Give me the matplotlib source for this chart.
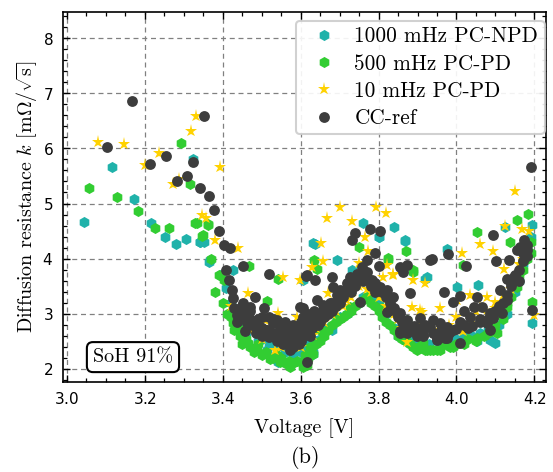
import matplotlib
matplotlib.use("Agg")
import matplotlib.pyplot as plt
from matplotlib.ticker import MultipleLocator

plt.rcParams['font.family'] = ['cmr10', 'DejaVu Serif']
plt.rcParams['mathtext.fontset'] = 'cm'
plt.rcParams['axes.formatter.use_mathtext'] = True

# ---------------- data ----------------
labels = ["1000 mHz PC-NPD", "500 mHz PC-PD", "10 mHz PC-PD", "CC-ref"]

teal_v = [3.044, 3.117, 3.172, 3.215, 3.252, 3.281, 3.306, 3.342, 3.352, 3.324, 3.365, 3.342, 3.367, 3.393,
          3.427, 3.408, 3.543, 3.513, 3.633, 3.607, 3.633, 3.760, 3.840, 3.802, 3.869, 3.637, 3.693, 3.731,
          3.920, 3.633, 3.881, 3.975, 4.055, 4.085, 4.100, 3.924, 4.125, 4.194, 4.194, 4.032, 3.868, 4.001,
          4.053, 3.800,
          3.42, 3.44, 3.46, 3.49, 3.52, 3.56, 3.58, 3.60, 3.62, 3.65, 3.67, 3.70, 3.73, 3.76, 3.79, 3.82,
          3.85, 3.87, 3.90, 3.93, 3.96, 3.99, 4.02, 4.06, 4.11, 4.13, 4.15, 4.17, 4.18,
          3.43, 3.45, 3.50, 3.54, 3.57, 3.61, 3.64, 3.68, 3.72, 3.75, 3.80, 3.84, 3.88, 3.95, 4.00,
          4.04, 4.08, 4.12, 4.16, 4.19]
teal_k = [4.66, 5.67, 5.08, 4.65, 4.39, 4.27, 4.36, 4.30, 4.30, 5.81, 3.94, 4.31, 3.98, 3.70,
          3.79, 3.46, 2.13, 2.34, 4.28, 3.61, 2.28, 4.65, 4.58, 4.39, 4.33, 4.27, 3.98, 3.79,
          3.64, 2.31, 2.47, 4.17, 3.52, 2.53, 2.48, 3.67, 4.58, 4.61, 2.83, 2.80, 4.32, 3.49,
          2.51, 4.40,
          3.20, 2.90, 2.65, 2.50, 2.45, 2.30, 2.25, 2.30, 2.45, 2.55, 2.75, 2.95, 3.10, 3.30, 3.30, 3.00,
          2.60, 2.50, 2.45, 2.45, 2.50, 2.55, 2.60, 2.65, 2.80, 3.00, 3.40, 3.90, 4.20,
          3.00, 2.80, 2.55, 2.40, 2.35, 2.35, 2.50, 2.70, 3.00, 3.20, 3.20, 2.75, 2.55, 2.50, 2.55,
          2.60, 2.70, 2.95, 3.60, 4.40]

green_v = [3.057, 3.128, 3.182, 3.227, 3.263, 3.292, 3.316, 3.333, 3.348, 3.361, 3.329, 3.349, 3.363,
           3.468, 3.543, 3.513, 3.402, 3.427, 3.444, 3.466, 3.487, 3.522, 3.547, 3.573, 3.607, 3.633,
           3.635, 3.749, 3.825, 3.889, 3.641, 3.684, 3.727, 3.770, 3.796, 3.809, 3.650, 3.624, 3.616,
           3.889, 3.915, 3.873, 3.871, 4.053, 4.156, 4.183, 4.138, 4.016, 4.194, 3.907, 3.933, 3.958,
           3.984, 4.053, 4.104, 4.130, 4.156, 3.898, 3.924, 3.941, 3.825, 3.889,
           3.40, 3.41, 3.43, 3.45, 3.48, 3.50, 3.53, 3.56, 3.59, 3.62, 3.64, 3.66, 3.68, 3.70, 3.72,
           3.74, 3.76, 3.78, 3.80, 3.82, 3.84, 3.86, 3.88, 3.97, 4.00, 4.03, 4.07, 4.09, 4.12, 4.14,
           4.17, 4.19, 3.38, 3.39, 3.37,
           3.42, 3.44, 3.46, 3.47, 3.49, 3.51, 3.54, 3.55, 3.57, 3.58, 3.60, 3.61, 3.63, 3.65, 3.67,
           3.69, 3.71, 3.73, 3.75, 3.77, 3.79, 3.81, 3.83, 3.85, 3.87, 3.90, 3.92, 3.95, 3.99, 4.02,
           4.05, 4.08, 4.10, 4.11, 4.13, 4.15, 4.16, 4.18, 4.19]
green_k = [5.29, 5.12, 4.87, 4.55, 4.56, 6.10, 5.35, 4.64, 4.42, 4.61, 4.64, 4.43, 4.63,
           3.87, 3.64, 3.24, 3.61, 2.83, 2.59, 2.47, 2.37, 2.19, 2.13, 2.04, 2.04, 2.28,
           3.98, 4.22, 3.98, 3.79, 3.81, 3.01, 3.13, 3.31, 3.37, 3.10, 2.71, 2.40, 2.07,
           2.40, 2.47, 2.89, 4.13, 4.49, 4.70, 4.81, 4.31, 3.89, 3.22, 2.40, 2.34, 2.34,
           2.40, 2.56, 2.65, 3.13, 3.49, 2.34, 2.34, 2.34, 4.01, 3.76,
           3.20, 3.00, 2.70, 2.45, 2.30, 2.25, 2.20, 2.10, 2.15, 2.20, 2.45, 2.60, 2.80, 2.90, 3.00,
           3.15, 3.25, 3.20, 3.05, 2.85, 2.70, 2.55, 2.45, 2.45, 2.45, 2.55, 2.60, 2.70, 2.90, 3.30,
           3.80, 4.10, 3.40, 3.70, 4.00,
           2.95, 2.75, 2.55, 2.40, 2.45, 2.30, 2.25, 2.20, 2.15, 2.10, 2.12, 2.25, 2.40, 2.50, 2.70,
           2.85, 2.95, 3.05, 3.20, 3.30, 3.15, 2.95, 2.80, 2.60, 2.50, 2.40, 2.35, 2.35, 2.40, 2.45,
           2.50, 2.65, 2.80, 3.00, 3.20, 3.50, 3.70, 4.00, 4.30]

gold_v = [3.080, 3.147, 3.200, 3.237, 3.331, 3.319, 3.272, 3.289, 3.346, 3.356, 3.393, 3.380, 3.440,
          3.556, 3.599, 3.629, 3.466, 3.420, 3.543, 3.509, 3.590, 3.599, 3.534, 3.462, 3.700, 3.667,
          3.731, 3.794, 3.818, 3.652, 3.658, 3.764, 3.773, 3.749, 3.811, 3.838, 3.889, 3.920, 3.671,
          3.710, 3.825, 3.886, 3.912, 3.607, 3.873, 3.633, 4.149, 4.061, 4.014, 4.093, 4.125, 4.168,
          4.185, 4.121, 3.958, 4.001, 4.035, 4.061, 4.078, 4.018, 3.907, 4.198, 4.100, 3.821, 3.838,
          3.47, 3.50, 3.56, 3.58, 3.62, 3.66, 3.69, 3.73, 3.77, 3.80, 3.84, 3.86, 3.94, 3.98, 4.04,
          4.08, 4.14, 4.16,
          3.44, 3.48, 3.52, 3.55, 3.60, 3.64, 3.68, 3.72, 3.75, 3.78, 3.82, 3.85, 3.90, 3.96, 4.00,
          4.05, 4.10, 4.12, 4.15, 4.17]
gold_k = [6.11, 6.07, 5.70, 5.91, 6.59, 6.32, 5.35, 5.44, 4.80, 4.73, 5.67, 4.34, 4.19,
          3.66, 3.61, 3.84, 3.37, 3.14, 3.01, 2.89, 2.95, 2.77, 2.34, 2.95, 4.93, 4.73,
          4.69, 4.94, 4.82, 4.29, 3.96, 4.39, 4.14, 3.93, 3.66, 3.72, 3.61, 3.55, 3.37,
          3.14, 3.20, 3.12, 3.04, 2.83, 2.49, 2.62, 5.23, 4.27, 4.11, 4.14, 4.59, 4.53,
          4.51, 3.82, 3.10, 3.25, 3.34, 3.13, 3.31, 2.68, 3.07, 2.98, 3.22, 3.88, 3.70,
          2.70, 2.55, 2.50, 2.45, 2.60, 2.85, 3.05, 3.30, 3.45, 3.30, 3.00, 2.75, 2.70, 2.80, 2.90,
          3.00, 3.45, 3.90,
          3.05, 2.75, 2.65, 2.40, 2.40, 2.75, 3.00, 3.25, 3.50, 3.40, 3.15, 2.90, 2.80, 2.75, 2.95,
          3.05, 3.10, 3.35, 3.65, 4.00]

dark_v = [3.102, 3.166, 3.213, 3.254, 3.353, 3.324, 3.283, 3.308, 3.341, 3.365, 3.378, 3.391, 3.402,
          3.419, 3.451, 3.520, 3.408, 3.417, 3.423, 3.427, 3.453, 3.470, 3.483, 3.506, 3.436, 3.436,
          3.462, 3.457, 3.496, 3.513, 3.530, 3.547, 3.560, 3.569, 3.573, 3.590, 3.607, 3.616, 3.616,
          3.637, 3.641, 3.607, 3.624, 3.590,
          3.445, 3.475, 3.485, 3.50, 3.52, 3.54, 3.555, 3.58, 3.595, 3.60, 3.55, 3.565, 3.58, 3.49,
          3.52, 3.54, 3.56,
          3.599, 3.616, 3.633, 3.650, 3.658, 3.676, 3.693, 3.702, 3.719, 3.727, 3.744, 3.757, 3.770,
          3.783, 3.804, 3.821, 3.838, 3.821, 3.847, 3.856, 3.873, 3.898, 3.924, 3.753, 3.599, 3.607,
          3.624, 3.614, 3.680, 3.684, 3.778, 3.804, 3.740, 3.731, 3.791, 3.800, 3.770, 3.856, 3.873,
          3.864, 3.881, 3.933,
          3.66, 3.68, 3.70, 3.71, 3.73, 3.74, 3.76, 3.78, 3.79, 3.645, 3.635,
          3.830, 3.856, 3.873, 3.856, 3.889, 3.915, 3.950, 3.975, 4.010, 3.933, 3.937, 3.977, 4.025,
          4.095, 4.102, 4.134, 3.967, 4.010, 3.992, 4.053, 4.065, 4.087, 4.112, 4.130, 4.147, 4.156,
          4.173, 4.164, 4.181, 4.194, 3.907, 3.941, 3.958, 3.975, 4.010, 4.035, 4.044, 4.078, 4.095,
          4.117, 3.915, 3.950, 3.971, 4.085, 4.192,
          4.12, 4.13, 4.14, 4.16, 4.17, 4.18, 4.02, 4.06, 3.99, 4.03,
          3.43, 3.44, 3.45, 3.46, 3.47, 3.48, 3.49, 3.50, 3.51, 3.52, 3.53, 3.54, 3.55, 3.56, 3.57,
          3.58, 3.59, 3.60, 3.61, 3.62, 3.63, 3.64, 3.65, 3.66, 3.67, 3.68, 3.69, 3.70, 3.71, 3.72,
          3.73, 3.74, 3.75, 3.76, 3.77, 3.78, 3.79, 3.80, 3.81, 3.82, 3.83, 3.84, 3.85, 3.86, 3.87,
          3.88, 3.89, 3.90, 3.91, 3.92, 3.94, 3.96, 3.98, 4.00, 4.02, 4.04, 4.06, 4.08, 4.10, 4.11,
          4.13, 4.14, 4.15, 4.16, 4.17, 4.18,
          3.45, 3.47, 3.50, 3.53, 3.56, 3.58, 3.60, 3.62]
dark_k = [6.03, 6.85, 5.72, 5.86, 6.59, 5.75, 5.40, 5.49, 5.29, 5.14, 4.88, 4.51, 4.24,
          4.20, 3.87, 3.73, 3.79, 3.61, 3.44, 3.28, 3.19, 3.13, 3.30, 3.10, 2.98, 2.86,
          2.83, 2.68, 2.77, 2.71, 2.83, 2.74, 2.59, 2.44, 2.34, 2.53, 2.68, 2.13, 3.70,
          3.61, 3.25, 3.10, 2.89, 2.77,
          2.92, 2.80, 2.65, 2.60, 2.58, 2.50, 2.45, 2.40, 2.45, 2.60, 2.62, 2.70, 2.62, 2.90,
          2.95, 2.88, 2.80,
          2.59, 2.77, 2.89, 3.01, 3.16, 3.19, 3.34, 3.43, 3.55, 3.67, 3.73, 3.85, 3.76,
          3.61, 3.49, 3.43, 3.31, 3.04, 3.01, 2.65, 2.65, 2.59, 2.77, 3.22, 3.13, 2.95,
          2.59, 3.69, 3.67, 3.49, 4.53, 4.51, 4.47, 4.33, 4.10, 3.87, 3.98, 3.85, 3.89,
          3.76, 3.37, 3.98,
          2.95, 3.05, 3.20, 3.30, 3.40, 3.50, 3.60, 3.50, 3.40, 2.80, 3.05,
          3.07, 3.01, 2.89, 2.68, 2.68, 2.59, 2.53, 2.56, 2.48, 2.77, 3.99, 4.08, 3.87,
          4.43, 3.96, 3.98, 3.40, 3.32, 3.22, 3.31, 3.13, 3.01, 3.43, 3.64, 3.67, 4.16,
          4.34, 4.22, 4.16, 3.07, 2.92, 2.89, 2.83, 2.77, 2.86, 2.95, 3.13, 2.83, 2.92,
          3.01, 2.62, 2.56, 2.56, 2.71, 5.66,
          3.20, 3.35, 3.50, 3.80, 3.95, 4.05, 3.05, 2.90, 2.70, 2.75,
          3.10, 3.05, 3.00, 2.95, 2.90, 2.85, 2.80, 2.75, 2.70, 2.68, 2.65, 2.62, 2.55, 2.50, 2.48,
          2.50, 2.55, 2.50, 2.62, 2.70, 2.75, 2.90, 2.85, 3.10, 3.00, 3.20, 3.15, 3.30, 3.40, 3.45,
          3.55, 3.62, 3.70, 3.72, 3.65, 3.60, 3.55, 3.45, 3.40, 3.30, 3.20, 3.10, 2.95, 2.85, 2.80,
          2.75, 2.78, 2.70, 2.75, 2.80, 2.65, 2.70, 2.65, 2.72, 2.80, 2.78, 2.85, 2.90, 3.05, 3.15,
          3.25, 3.55, 3.70, 3.60, 4.10, 4.25,
          3.15, 3.05, 2.95, 2.90, 2.85, 2.80, 2.85, 3.00]

x_ticks = [3.0, 3.2, 3.4, 3.6, 3.8, 4.0, 4.2]
y_ticks = [2, 3, 4, 5, 6, 7, 8]

# ---------------- figure ----------------
fig = plt.figure(figsize=(5.53, 4.72), dpi=100)
ax = fig.add_axes([0.1139, 0.1917, 0.8729, 0.7835])

series = [
    (teal_v, teal_k, 'h', '#20B2AA', 8.0),
    (green_v, green_k, 'h', '#32CD32', 8.0),
    (gold_v, gold_k, '*', '#FFD200', 9.5),
    (dark_v, dark_k, 'o', '#3d3d3d', 7.8),
]
for (xv, yv, mk, col, ms), lab in zip(series, labels):
    ax.plot(xv, yv, linestyle='none', marker=mk, color=col, markersize=ms,
            markeredgewidth=0, label=lab, zorder=3)

ax.set_xlim(2.99, 4.229)
ax.set_ylim(1.773, 8.477)
ax.set_xticks(x_ticks)
ax.set_yticks(y_ticks)
ax.xaxis.set_minor_locator(MultipleLocator(0.05))
ax.yaxis.set_minor_locator(MultipleLocator(0.2))
ax.tick_params(which='both', direction='in', top=True, right=True,
               labelfontfamily='DejaVu Sans', labelsize=11, pad=7)
ax.tick_params(which='major', length=5, width=1.0)
ax.tick_params(which='minor', length=3, width=0.9)
for s in ax.spines.values():
    s.set_linewidth(1.2)

ax.grid(True, which='major', linestyle=(0, (4, 3)), color='0.5', linewidth=0.9, zorder=0)
ax.set_axisbelow(True)

ax.set_xlabel('Voltage [V]', fontsize=14.5, labelpad=8)
ax.set_ylabel(r'Diffusion resistance $k$ [m$\Omega/\sqrt{\mathrm{s}}$]', fontsize=14.5, labelpad=1.5)

leg = ax.legend(loc='upper right', bbox_to_anchor=(0.998, 0.976), borderaxespad=0,
                fontsize=15.3, handletextpad=0.45, labelspacing=0.36, borderpad=0.3,
                frameon=True, fancybox=True, edgecolor='0.8', framealpha=0.9)
leg.get_frame().set_linewidth(1.5)

ax.text(0.145, 0.066, 'SoH 91%', transform=ax.transAxes, fontsize=14.5,
        ha='center', va='center',
        bbox=dict(boxstyle='round,pad=0.3', facecolor='white', edgecolor='black', linewidth=1.5))

fig.text(0.553, 0.030, '(b)', ha='center', va='center', fontsize=16)

fig.savefig('out.png', dpi=100)
